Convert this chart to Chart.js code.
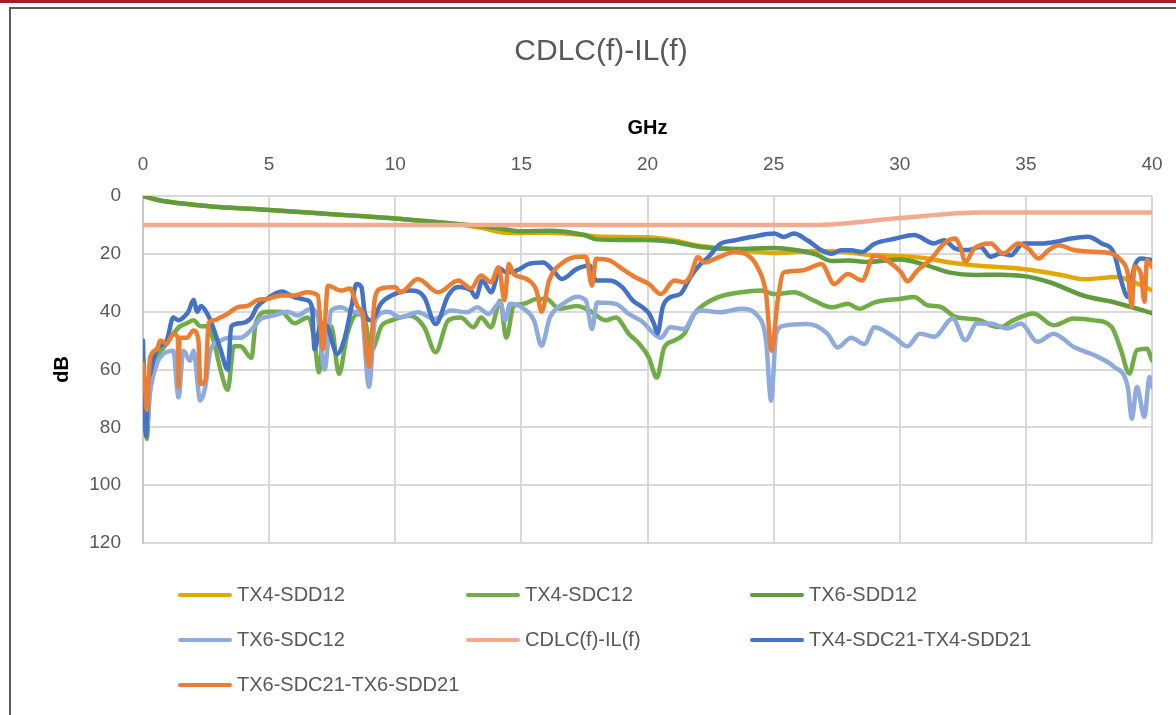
<!DOCTYPE html>
<html>
<head>
<meta charset="utf-8">
<title>CDLC(f)-IL(f)</title>
<script src="https://cdn.jsdelivr.net/npm/chart.js@4.4.1/dist/chart.umd.min.js"></script>
<style>
    body {
        margin: 0;
        width: 1176px;
        height: 715px;
        overflow: hidden;
        background: #ffffff;
        font-family: "Liberation Sans", Arial, sans-serif;
    }
    #topline {
        position: absolute;
        left: 0;
        top: 0;
        width: 1176px;
        height: 3px;
        background: #a31f22;
    }
    #frame {
        position: absolute;
        left: 9px;
        top: 7px;
        width: 1200px;
        height: 800px;
        border: 2px solid #5a5a5a;
    }
    #mychart {
        position: absolute;
        left: 0;
        top: 0;
    }
    #legend {
        position: absolute;
        left: 178px;
        top: 572px;
        display: grid;
        grid-template-columns: 288px 284px 300px;
        grid-auto-rows: 45px;
        font-size: 20px;
        color: #595959;
    }
    #legend div {
        display: flex;
        align-items: center;
        white-space: nowrap;
    }
    #legend span.line {
        display: inline-block;
        width: 54px;
        height: 4px;
        border-radius: 2px;
        margin-right: 5px;
    }
</style>
</head>
<body>
<div id="topline"></div>
<div id="frame"></div>
<canvas id="mychart" width="1176" height="715"></canvas>
<div id="legend"></div>

<script>
// series names and colours
let seriesNames = ['TX4-SDD12', 'TX4-SDC12', 'TX6-SDD12', 'TX6-SDC12', 'CDLC(f)-IL(f)', 'TX4-SDC21-TX4-SDD21', 'TX6-SDC21-TX6-SDD21'];
let seriesColors = ['#e3a800', '#70ad47', '#5e9c3d', '#8faadc', '#f3ab90', '#4472c4', '#ed7d31'];

// axis ticks
let ghzTicks = [0, 5, 10, 15, 20, 25, 30, 35, 40];
let dbTicks = [0, 20, 40, 60, 80, 100, 120];

// TX4-SDD12
let tx4Sdd12Ghz = [0, 0.5, 1, 2, 3, 5, 7.5, 10, 12.5, 13.5, 14.2, 15, 16, 17.5, 18, 20, 21, 22.1, 23.5, 25, 26.7, 28, 28.7, 30, 31, 32, 33, 35, 36.5, 37.3, 38.6, 39.2, 40];
let tx4Sdd12Db = [0, 1.2, 2, 3, 3.8, 4.8, 6.3, 7.8, 9.8, 11.2, 12.5, 12.8, 12.7, 13.5, 14, 14.3, 15.3, 17.3, 18.5, 19.7, 19, 19.5, 20.3, 20.8, 21.5, 23, 24, 25.3, 27.5, 28.8, 28, 29.5, 32.6];

// TX4-SDC12
let tx4Sdc12Ghz = [0, 0.08, 0.15, 0.28, 0.55, 0.94, 1.2, 1.48, 1.74, 2.0, 2.27, 2.54, 2.8, 3.07, 3.36, 3.6, 3.87, 4.3, 4.47, 4.93, 5.47, 6.0, 6.53, 6.8, 6.97, 7.2, 7.46, 7.77, 8.1, 8.5, 8.8, 9.05, 9.45, 9.85, 10.6, 11.15, 11.6, 12.1, 12.6, 13.1, 13.4, 13.8, 14.16, 14.4, 14.7, 15.1, 15.6, 16.0, 16.5, 17.2, 17.7, 18.35, 18.74, 19.26, 19.66, 20.05, 20.37, 20.66, 21.06, 21.45, 21.85, 22.1, 22.8, 23.7, 24.5, 25.03, 25.8, 26.6, 27.3, 27.94, 28.4, 29, 30.04, 30.57, 31.1, 31.6, 32.2, 32.7, 33.2, 33.6, 34, 34.5, 35.3, 36.1, 36.9, 37.7, 38.4, 38.77, 39.1, 39.4, 39.8, 40];
let tx4Sdc12Db = [56, 70, 84, 64, 56, 51, 47.7, 45, 44, 43, 45, 45, 50, 60, 67, 52, 52, 56, 44, 40, 40, 44, 42, 50, 61, 45, 45, 61.5, 47.7, 40.8, 43, 53.5, 45, 43, 41.4, 45.4, 54, 43, 42, 45.4, 42, 45.4, 36.2, 49, 38, 37.3, 35.6, 35.6, 39, 38, 39.6, 43, 42, 47.7, 51, 55.8, 62.8, 52.4, 50, 47.7, 40.8, 38.5, 35, 33.3, 32.7, 33.9, 33.3, 36.2, 38.5, 37.3, 39, 36.8, 35.5, 34.9, 37.8, 38.3, 41.8, 42.4, 43, 44.7, 45.3, 43, 40.6, 44.7, 42.4, 43, 45.3, 53.3, 61.4, 53.3, 52.8, 56.8];

// TX6-SDD12
let tx6Sdd12Ghz = [0, 0.5, 1, 2, 3, 5, 7.5, 10, 12.5, 13.5, 14.2, 15, 16, 17.5, 18, 19, 20, 21, 22.1, 23.5, 25, 25.8, 26.7, 27.3, 28, 28.7, 30, 31, 32, 33, 34, 35, 36, 37.3, 38.6, 40];
let tx6Sdd12Db = [0, 1.2, 2, 3, 3.8, 4.8, 6.3, 7.8, 9.7, 10.5, 11.3, 12.2, 12, 13.5, 15, 15.2, 15.2, 15.8, 17.6, 18.3, 18, 18.6, 20.3, 22.5, 22.3, 22.8, 22, 23.8, 26.5, 27.3, 27.2, 27.8, 30, 34.5, 37, 40.5];

// TX6-SDC12
let tx6Sdc12Ghz = [0, 0.08, 0.15, 0.28, 0.55, 0.81, 1.2, 1.41, 1.6, 1.87, 2.0, 2.27, 2.47, 2.67, 3.07, 3.4, 3.87, 4.27, 4.67, 5.2, 5.73, 6.13, 6.66, 6.93, 7.2, 7.46, 7.86, 8.26, 8.66, 8.96, 9.2, 9.72, 10.2, 10.9, 11.55, 12.2, 12.85, 13.25, 13.7, 14.16, 14.36, 14.55, 15.1, 15.5, 15.8, 16.13, 16.65, 17.2, 17.56, 17.8, 18.0, 18.74, 19.26, 19.8, 20.26, 20.53, 20.9, 21.45, 21.85, 22.1, 22.9, 23.7, 24.36, 24.7, 24.9, 25.1, 25.4, 26.35, 27.14, 27.54, 28.07, 28.6, 29, 29.8, 30.3, 30.8, 31.36, 32.1, 32.6, 33.06, 33.6, 34.27, 34.8, 35.46, 36.1, 36.9, 37.7, 38.5, 39.04, 39.2, 39.4, 39.7, 39.9, 40];
let tx6Sdc12Db = [59, 70, 80, 68, 58, 54.6, 53.5, 69.6, 53.5, 57, 53.5, 70.7, 66, 53.5, 50, 49, 49, 46.5, 42.5, 41.3, 40, 41.3, 39, 42, 60, 39.6, 38.5, 40, 40.8, 66, 43, 40, 42, 40.2, 42.5, 39.6, 40.2, 38.5, 40.8, 36.8, 43, 37.3, 39, 43, 51.8, 42, 37.3, 34.8, 36.2, 46, 36.8, 37.3, 40.8, 43.5, 47.7, 49, 45.4, 46, 40.8, 39.6, 40.2, 39, 41.4, 50, 70.8, 47.7, 44.9, 44.3, 47.7, 52.4, 49, 51.2, 45.4, 49, 52, 47.6, 48.7, 42.4, 49.9, 44.1, 44.1, 45.8, 44.1, 50.4, 47.6, 52.2, 55, 59.1, 66, 77, 66, 76.4, 62.6, 66];

// CDLC(f)-IL(f) limit
let cdlcGhz = [0, 26.6, 30, 33.2, 40];
let cdlcDb = [10, 10, 7.6, 5.7, 5.7];

// TX4-SDC21-TX4-SDD21
let tx4Sdc21Ghz = [0, 0.05, 0.12, 0.2, 0.28, 0.55, 0.94, 1.2, 1.4, 1.6, 1.8, 2.0, 2.15, 2.3, 2.5, 2.65, 2.87, 3.07, 3.36, 3.5, 3.9, 4.3, 4.5, 4.9, 5.5, 6.0, 6.5, 6.7, 6.8, 7.06, 7.3, 7.7, 8.0, 8.26, 8.46, 8.66, 8.8, 9.05, 9.45, 9.85, 10.6, 11.15, 11.6, 12.1, 12.5, 13.0, 13.2, 13.45, 13.8, 14.16, 14.4, 14.8, 15.3, 15.86, 16.26, 16.6, 17.2, 17.7, 17.96, 18.5, 19.0, 19.4, 19.8, 20.05, 20.26, 20.4, 20.6, 20.9, 21.3, 21.7, 22.05, 22.4, 22.9, 23.44, 24.1, 25.03, 25.4, 25.8, 26.35, 26.9, 27.3, 27.67, 28.07, 28.5, 29, 29.8, 30.57, 31.36, 31.76, 32.2, 32.7, 33.2, 33.6, 34, 34.4, 34.9, 35.6, 36.2, 36.8, 37.45, 38, 38.5, 38.77, 39.04, 39.3, 39.56, 40];
let tx4Sdc21Db = [50, 70, 83, 65, 61.5, 53, 50, 42, 43, 42, 40, 36, 40, 38, 40, 42.5, 47.7, 53, 60, 45, 44, 42, 38.5, 35.6, 33, 35, 36, 38.5, 53, 44, 45, 54.6, 49, 38.5, 30.4, 31.5, 40.8, 43, 37, 34.4, 32.7, 35, 44.3, 34.4, 31.5, 32.7, 35, 29.2, 33.3, 25.2, 26.4, 25.8, 23.5, 23, 25.8, 28.7, 25.2, 24, 29.2, 29.2, 31.5, 36, 38.5, 40.5, 44.3, 47.5, 38.5, 35, 33.9, 28, 24, 21.2, 16.5, 15.4, 14.2, 13, 14.2, 13, 15.4, 18.8, 20, 18.8, 18.8, 19.4, 16.5, 14.8, 13.5, 16.4, 15.3, 18.2, 18.7, 17.6, 21, 19.9, 20.5, 16.4, 16.4, 15.8, 14.7, 14.1, 16.4, 19.9, 29, 34.9, 24.5, 21.6, 22.2];

// TX6-SDC21-TX6-SDD21
let tx6Sdc21Ghz = [0, 0.08, 0.15, 0.28, 0.55, 0.68, 0.94, 1.2, 1.38, 1.41, 1.45, 1.74, 2.0, 2.2, 2.27, 2.47, 2.6, 2.8, 3.07, 3.34, 3.74, 4.14, 4.54, 4.93, 5.47, 6.0, 6.5, 6.93, 7.13, 7.33, 7.86, 8.2, 8.52, 8.72, 8.95, 9.2, 9.45, 10.0, 10.2, 10.9, 11.7, 12.5, 13.0, 13.4, 13.8, 14.1, 14.33, 14.5, 14.7, 15.2, 15.6, 15.8, 16.1, 16.65, 17.3, 17.56, 17.8, 17.96, 18.5, 19.0, 19.5, 20.05, 20.53, 21.06, 21.45, 21.7, 22.0, 22.25, 22.8, 23.44, 24, 24.36, 24.7, 24.92, 25.16, 25.4, 26.1, 26.9, 27.4, 27.94, 28.5, 29, 29.5, 30.05, 30.3, 30.7, 31.2, 31.76, 32.2, 32.4, 32.6, 32.95, 33.6, 34.1, 34.7, 35.1, 35.5, 35.9, 36.3, 36.9, 37.7, 38.4, 38.77, 39.04, 39.2, 39.3, 39.56, 39.7, 39.8, 40];
let tx6Sdc21Db = [58, 66, 74, 56, 53, 50, 51, 47.7, 49, 66, 49, 49, 46.5, 50, 65, 63.8, 44, 43, 42, 40.8, 38.5, 38, 36, 35.6, 34.4, 34.4, 33.3, 34.4, 53, 31, 32.7, 32, 38.5, 40.8, 59, 35, 32, 31.5, 33.3, 28.7, 33.3, 29.2, 32, 27.5, 29.8, 24.6, 36, 23.5, 27, 28.7, 32.7, 40, 29.2, 23, 21, 21, 31, 21.7, 22.3, 25.2, 28, 30.4, 33.9, 29.2, 29.8, 27.5, 21.2, 23, 21.2, 19.4, 20.6, 24.6, 33.9, 53.5, 36.2, 26.4, 25.8, 23.5, 30.4, 27, 29.2, 20.6, 22.3, 26.4, 29.5, 25.7, 22.2, 16.4, 14.7, 17.6, 22.8, 18.2, 16.4, 19.9, 16.4, 18.2, 21.6, 18.7, 17, 18.7, 19.3, 19.9, 22.2, 26.8, 38.3, 24.5, 26.8, 36.6, 22.2, 24.5];

let seriesGhz = [tx4Sdd12Ghz, tx4Sdc12Ghz, tx6Sdd12Ghz, tx6Sdc12Ghz, cdlcGhz, tx4Sdc21Ghz, tx6Sdc21Ghz];
let seriesDb = [tx4Sdd12Db, tx4Sdc12Db, tx6Sdd12Db, tx6Sdc12Db, cdlcDb, tx4Sdc21Db, tx6Sdc21Db];

let fontName = '"Liberation Sans", Arial, sans-serif';
Chart.defaults.font.family = fontName;

function makePoints(ghz, db) {
    let pts = [];
    for (let i in ghz) {
        pts.push({ x: ghz[i], y: db[i] });
    }
    return pts;
}

function showChart() {
    let datasets = [];
    for (let i = 0; i < seriesNames.length; i++) {
        datasets.push({
            label: seriesNames[i],
            data: makePoints(seriesGhz[i], seriesDb[i]),
            borderColor: seriesColors[i],
            backgroundColor: seriesColors[i],
            borderWidth: 4.5,
            pointRadius: 0,
            cubicInterpolationMode: 'monotone',
            borderCapStyle: 'round',
            borderJoinStyle: 'round',
            // excel paints later series on top
            order: -i
        });
    }

    let gridStyle = { color: '#d9d9d9', lineWidth: 2, drawTicks: false };

    let ctx = document.getElementById('mychart');
    let myLineChart = new Chart(ctx, {
        type: 'line',
        data: { datasets: datasets },
        options: {
            responsive: false,
            animation: false,
            layout: { padding: { left: 50, right: 24, top: 0, bottom: 172 } },
            plugins: {
                legend: { display: false },
                tooltip: { enabled: false },
                title: {
                    display: true,
                    text: 'CDLC(f)-IL(f)',
                    color: '#595959',
                    font: { size: 30, weight: 'normal' },
                    padding: { top: 34, bottom: 10 }
                }
            },
            scales: {
                x: {
                    type: 'linear',
                    position: 'top',
                    min: 0,
                    max: 40,
                    afterBuildTicks: function (scale) {
                        scale.ticks = ghzTicks.map(v => ({ value: v }));
                    },
                    ticks: { padding: 20, color: '#595959', font: { size: 19 } },
                    grid: gridStyle,
                    border: { display: false },
                    title: {
                        display: true,
                        text: 'GHz',
                        color: '#000000',
                        font: { size: 20, weight: 'bold' },
                        padding: { top: 36, bottom: 0 }
                    },
                    afterFit: function (scale) {
                        scale.height = 116;
                        // tick padding would otherwise eat into the right margin
                        scale.paddingLeft = 0;
                        scale.paddingRight = 0;
                    }
                },
                y: {
                    type: 'linear',
                    reverse: true,
                    min: 0,
                    max: 120,
                    afterBuildTicks: function (scale) {
                        scale.ticks = dbTicks.map(v => ({ value: v }));
                    },
                    ticks: { padding: 22, color: '#595959', font: { size: 19 } },
                    grid: gridStyle,
                    border: { display: true, color: '#c8c8c8', width: 2 },
                    title: {
                        display: true,
                        text: 'dB',
                        color: '#000000',
                        font: { size: 20, weight: 'bold' },
                        padding: { top: 0, bottom: 0 }
                    },
                    afterFit: function (scale) { scale.width = 93; }
                }
            }
        }
    });
    return myLineChart;
}

function showLegend(chart) {
    let box = document.getElementById('legend');
    chart.data.datasets.forEach(function (ds) {
        let item = document.createElement('div');
        let line = document.createElement('span');
        line.className = 'line';
        line.style.background = ds.borderColor;
        item.appendChild(line);
        item.appendChild(document.createTextNode(ds.label));
        box.appendChild(item);
    });
}

let chart = showChart();
showLegend(chart);
</script>
</body>
</html>
